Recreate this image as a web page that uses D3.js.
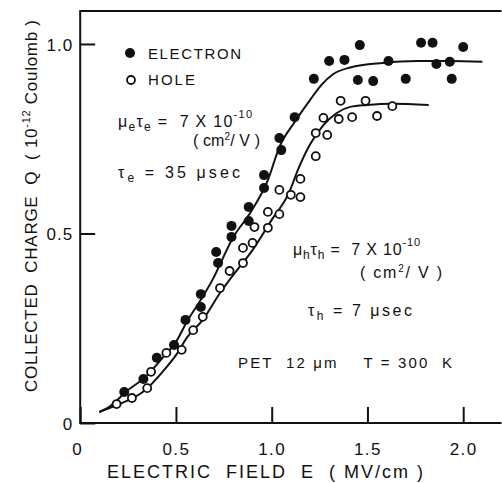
<!DOCTYPE html>
<html>
<head>
<meta charset="utf-8">
<script src="https://cdn.jsdelivr.net/npm/d3@7"></script>
<style>
  body { margin: 0; background: #fff; }
  svg text { font-family: "Liberation Sans", Arial, sans-serif; fill: #111; white-space: pre; }
</style>
</head>
<body>
<div id="chart"></div>
<script>
var electronE = [0.23,0.33,0.40,0.49,0.55,0.63,0.63,0.71,0.72,0.79,0.79,0.88,0.88,0.96,0.96,1.04,1.05,1.12,1.22,1.30,1.38,1.46,1.45,1.53,1.61,1.70,1.78,1.84,1.86,1.93,1.94,2.00];
var electronQ = [0.082,0.116,0.172,0.206,0.272,0.340,0.306,0.451,0.422,0.520,0.491,0.570,0.533,0.654,0.620,0.752,0.720,0.807,0.908,0.955,0.958,0.997,0.905,0.902,0.955,0.908,1.003,1.003,0.947,0.953,0.908,0.992];
var holeE = [0.19,0.27,0.35,0.37,0.45,0.53,0.59,0.64,0.73,0.78,0.85,0.85,0.90,0.91,0.98,0.98,1.04,1.04,1.10,1.15,1.15,1.23,1.23,1.29,1.27,1.35,1.42,1.36,1.49,1.55,1.63];
var holeQ = [0.050,0.066,0.092,0.135,0.185,0.193,0.245,0.280,0.356,0.401,0.422,0.462,0.475,0.517,0.515,0.557,0.551,0.615,0.602,0.596,0.644,0.704,0.765,0.760,0.805,0.802,0.807,0.850,0.850,0.810,0.836];

// fitted curves
var electronFitE = [0.10,0.15,0.25,0.34,0.43,0.50,0.56,0.62,0.69,0.80,0.89,0.98,1.04,1.12,1.20,1.26,1.32,1.41,1.58,1.76,1.93,2.10];
var electronFitQ = [0.029,0.042,0.087,0.121,0.172,0.214,0.270,0.317,0.377,0.491,0.556,0.641,0.728,0.794,0.852,0.892,0.920,0.938,0.950,0.955,0.955,0.953];
var holeFitE = [0.10,0.18,0.34,0.43,0.50,0.56,0.64,0.73,0.82,0.90,1.00,1.09,1.14,1.20,1.27,1.34,1.41,1.50,1.63,1.82];
var holeFitQ = [0.029,0.045,0.087,0.135,0.179,0.227,0.272,0.343,0.404,0.456,0.536,0.607,0.672,0.735,0.786,0.818,0.834,0.839,0.842,0.839];

var xTicks = [0, 0.5, 1.0, 1.5, 2.0];
var xTickLabels = ["0", "0.5", "1.0", "1.5", "2.0"];
var yTicks = [0, 0.5, 1.0];
var yTickLabels = ["0", "0.5", "1.0"];

var W = 502, H = 483;
var svg = d3.select("#chart").append("svg")
  .attr("width", W)
  .attr("height", H);

var x = d3.scaleLinear().domain([0, 2.2]).range([80.2, 501.5]);
var y = d3.scaleLinear().domain([0, 1.087]).range([423, 11]);

// frame: left, bottom and top lines
svg.append("path")
  .attr("d", "M" + x.range()[1] + "," + y.range()[1] + "H" + x.range()[0] + "V" + y.range()[0] + "H" + x.range()[1])
  .attr("fill", "none")
  .attr("stroke", "#111")
  .attr("stroke-width", 2);

// axes with inward ticks
var xAxis = svg.append("g")
  .attr("transform", "translate(0," + y(0) + ")")
  .call(d3.axisBottom(x).tickValues(xTicks).tickSize(-16).tickFormat(function(d, i){ return xTickLabels[i]; }));
xAxis.select(".domain").remove();
xAxis.selectAll("line").attr("stroke", "#111").attr("stroke-width", 2);
xAxis.selectAll("text")
  .attr("y", 32).attr("dy", null)
  .style("font-size", "17px")
  .style("letter-spacing", "1.5px")
  .attr("fill", "#111");
xAxis.selectAll(".tick").filter(function(d){ return d === 0; }).select("text").attr("dx", -3);

var yAxis = svg.append("g")
  .attr("transform", "translate(" + x(0) + ",0)")
  .call(d3.axisLeft(y).tickValues(yTicks).tickSize(-15).tickFormat(function(d, i){ return yTickLabels[i]; }));
yAxis.select(".domain").remove();
yAxis.selectAll("line").attr("stroke", "#111").attr("stroke-width", 2);
yAxis.selectAll("text")
  .attr("x", -7).attr("dy", "0.36em")
  .style("font-size", "17px")
  .style("letter-spacing", "1px")
  .attr("fill", "#111");

// axis titles
svg.append("text")
  .attr("x", 265).attr("y", 478)
  .attr("text-anchor", "middle")
  .attr("textLength", 316)
  .attr("lengthAdjust", "spacing")
  .style("font-size", "18px")
  .text("ELECTRIC  FIELD  E  ( MV/cm )");

var yt = svg.append("text")
  .attr("transform", "translate(37,392) rotate(-90)")
  .attr("textLength", 372)
  .attr("lengthAdjust", "spacing")
  .style("font-size", "17px");
yt.append("tspan").text("COLLECTED  CHARGE  Q  ( 10");
yt.append("tspan").attr("dy", -7).style("font-size", "11px").text("-12");
yt.append("tspan").attr("dy", 7).text(" Coulomb )");

// fitted curves
var line = d3.line()
  .x(function(d){ return x(d[0]); })
  .y(function(d){ return y(d[1]); })
  .curve(d3.curveMonotoneX);

svg.append("path")
  .datum(d3.zip(electronFitE, electronFitQ))
  .attr("d", line)
  .attr("fill", "none")
  .attr("stroke", "#111")
  .attr("stroke-width", 2);
svg.append("path")
  .datum(d3.zip(holeFitE, holeFitQ))
  .attr("d", line)
  .attr("fill", "none")
  .attr("stroke", "#111")
  .attr("stroke-width", 2);

// measured points
svg.append("g").selectAll("circle")
  .data(d3.zip(holeE, holeQ))
  .join("circle")
  .attr("cx", function(d){ return x(d[0]); })
  .attr("cy", function(d){ return y(d[1]); })
  .attr("r", 4)
  .attr("fill", "#fff")
  .attr("stroke", "#111")
  .attr("stroke-width", 1.8);
svg.append("g").selectAll("circle")
  .data(d3.zip(electronE, electronQ))
  .join("circle")
  .attr("cx", function(d){ return x(d[0]); })
  .attr("cy", function(d){ return y(d[1]); })
  .attr("r", 5)
  .attr("fill", "#111");

// legend
svg.append("circle").attr("cx", 130).attr("cy", 53).attr("r", 5).attr("fill", "#111");
svg.append("circle").attr("cx", 131).attr("cy", 80).attr("r", 4)
  .attr("fill", "#fff").attr("stroke", "#111").attr("stroke-width", 1.8);
svg.append("text").attr("x", 148).attr("y", 59).style("font-size", "15px")
  .attr("textLength", 93).attr("lengthAdjust", "spacing").text("ELECTRON");
svg.append("text").attr("x", 148).attr("y", 85).style("font-size", "15px")
  .attr("textLength", 47).attr("lengthAdjust", "spacing").text("HOLE");

// annotations
function muTau(xp, yp, sub, len) {
  var t = svg.append("text").attr("x", xp).attr("y", yp).style("font-size", "16px")
    .attr("textLength", len).attr("lengthAdjust", "spacing");
  t.append("tspan").text("\u03bc");
  t.append("tspan").attr("dy", 4).style("font-size", "12px").text(sub);
  t.append("tspan").attr("dy", -4).text("\u03c4");
  t.append("tspan").attr("dy", 4).style("font-size", "12px").text(sub);
  t.append("tspan").attr("dy", -4).text(" =  7 X 10");
  t.append("tspan").attr("dy", -9).style("font-size", "11px").text("-10");
}
function units(xp, yp, len) {
  var t = svg.append("text").attr("x", xp).attr("y", yp).style("font-size", "16px")
    .attr("textLength", len).attr("lengthAdjust", "spacing");
  t.append("tspan").text("( cm");
  t.append("tspan").attr("dy", -6).style("font-size", "10px").text("2");
  t.append("tspan").attr("dy", 6).text("/ V )");
}
function tauLine(xp, yp, sub, val, len) {
  var t = svg.append("text").attr("x", xp).attr("y", yp).style("font-size", "16px")
    .attr("textLength", len).attr("lengthAdjust", "spacing");
  t.append("tspan").text("\u03c4");
  t.append("tspan").attr("dy", 4).style("font-size", "12px").text(sub);
  t.append("tspan").attr("dy", -4).text(" = " + val + " \u03bcsec");
}

muTau(118, 127, "e", 134);
units(193, 146, 67);
tauLine(118, 178, "e", "35", 122);

muTau(293, 255, "h", 127);
units(360, 278, 82);
tauLine(308, 316, "h", "7", 104);

svg.append("text").attr("x", 238).attr("y", 368).style("font-size", "15px")
  .attr("textLength", 214).attr("lengthAdjust", "spacing")
  .text("PET  12 \u03bcm    T = 300  K");
</script>
</body>
</html>
